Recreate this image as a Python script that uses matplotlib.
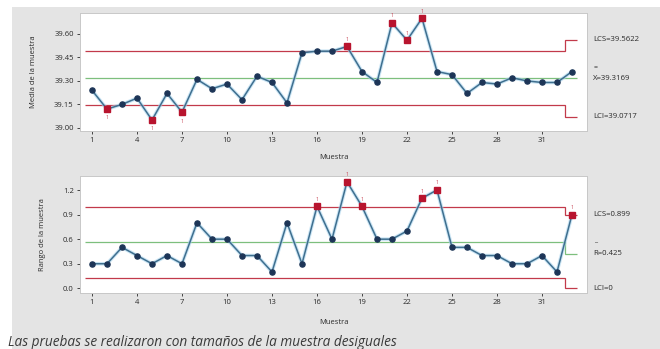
import numpy as np
import matplotlib
matplotlib.use("Agg")
import matplotlib.pyplot as plt
from matplotlib.patches import Rectangle

plt.rcParams["font.family"] = ["Open Sans", "DejaVu Sans"]

muestra = np.arange(1, 34)
medias = [39.24, 39.12, 39.15, 39.19, 39.05, 39.22, 39.10, 39.31, 39.25, 39.28,
          39.18, 39.33, 39.29, 39.16, 39.48, 39.49, 39.49, 39.52, 39.36, 39.29,
          39.67, 39.56, 39.70, 39.36, 39.34, 39.22, 39.29, 39.28, 39.32, 39.30,
          39.29, 39.29, 39.36]
rangos = [0.3, 0.3, 0.5, 0.4, 0.3, 0.4, 0.3, 0.8, 0.6, 0.6,
          0.4, 0.4, 0.2, 0.8, 0.3, 1.0, 0.6, 1.3, 1.0, 0.6,
          0.6, 0.7, 1.1, 1.2, 0.5, 0.5, 0.4, 0.4, 0.3, 0.3,
          0.4, 0.2, 0.9]

# limits per sample (unequal sample sizes -> last sample differs)
lcs_x = [39.488] * 32 + [39.5622]
lc_x = [39.3169] * 33
lci_x = [39.148] * 32 + [39.0717]
lcs_r = [0.996] * 32 + [0.899]
lc_r = [0.569] * 32 + [0.425]
lci_r = [0.122] * 32 + [0.0]

fallas_x = [2, 5, 7, 18, 21, 22, 23]
fallas_r = [16, 18, 19, 23, 24, 33]

etiq_x = ["LCS=39.5622", "X=39.3169", "LCI=39.0717"]
etiq_r = ["LCS=0.899", "R=0.425", "LCI=0"]

ROJO = "#c23a4a"
VERDE = "#7dbf7d"
LINEA = "#3f6f8f"
PUNTO = "#1d3557"
GRIS = "#e4e4e4"
TXT = "#2a2a2a"

fig = plt.figure(figsize=(6.6, 3.49), dpi=100, facecolor="white")
fig.patches.append(Rectangle((12 / 660, 0), 1, 1 - 7 / 349, transform=fig.transFigure,
                             facecolor=GRIS, edgecolor="none", zorder=-10))

ax1 = fig.add_axes([80 / 660, 1 - 131 / 349, 507 / 660, 118 / 349])
ax2 = fig.add_axes([80 / 660, 1 - 293 / 349, 507 / 660, 117 / 349])

edges = np.arange(0.5, 34.5)
edges = np.append(edges[:-1], 33.3)


def panel(ax, vals, lcs, lc, lci, fallas, ylim, yticks, yfmt, ylabel, etiq, below, xpad):
    ax.set_facecolor("white")
    ax.stairs(lcs, edges, baseline=None, color=ROJO, lw=0.9, zorder=2)
    ax.stairs(lci, edges, baseline=None, color=ROJO, lw=0.9, zorder=2)
    ax.stairs(lc, edges, baseline=None, color=VERDE, lw=0.9, zorder=2)
    ax.plot(muestra, vals, color="#a9d4ee", lw=2.6, alpha=0.6, zorder=3)
    ax.plot(muestra, vals, color=LINEA, lw=1.1, zorder=4)
    v = np.array(vals)
    ok = [i for i in range(33) if muestra[i] not in fallas]
    bad = [i for i in range(33) if muestra[i] in fallas]
    ax.plot(muestra[ok], v[ok], "o", ms=3.7, color=PUNTO, zorder=5)
    ax.plot(muestra[bad], v[bad], "s", ms=4.2, color="#b8142e", zorder=5)
    rng = ylim[1] - ylim[0]
    for i in bad:
        dy = -0.075 * rng if muestra[i] in below else 0.06 * rng
        ax.text(muestra[i], v[i] + dy, "1", color=ROJO, fontsize=3.5,
                ha="center", va="center", zorder=6)
    ax.set_xlim(0.2, 34)
    ax.set_ylim(*ylim)
    ax.set_yticks(yticks)
    ax.set_yticklabels([yfmt.format(t) for t in yticks])
    ax.set_xticks(np.arange(1, 33, 3))
    ax.tick_params(labelsize=5.5, colors=TXT, length=2.5, width=0.6, pad=2)
    for s in ax.spines.values():
        s.set_color("#c8c8c8")
        s.set_linewidth(0.7)
    ax.set_ylabel(ylabel, fontsize=5.5, color=TXT, labelpad=12)
    ax.set_xlabel("Muestra", fontsize=5.5, color=TXT, labelpad=xpad)
    # right side labels
    ax.text(1.012, (lcs[-1] - ylim[0]) / rng, etiq[0], transform=ax.transAxes,
            fontsize=5.6, color=TXT, va="center")
    ax.text(1.012, (lc[-1] - ylim[0]) / rng, etiq[1], transform=ax.transAxes,
            fontsize=5.6, color=TXT, va="center")
    ax.text(1.012, (lci[-1] - ylim[0]) / rng, etiq[2], transform=ax.transAxes,
            fontsize=5.6, color=TXT, va="center")


panel(ax1, medias, lcs_x, lc_x, lci_x, fallas_x, (38.98, 39.734),
      [39.00, 39.15, 39.30, 39.45, 39.60], "{:.2f}", "Media de la muestra",
      etiq_x, below=[2, 5, 7], xpad=7)
panel(ax2, rangos, lcs_r, lc_r, lci_r, fallas_r, (-0.057, 1.371),
      [0.0, 0.3, 0.6, 0.9, 1.2], "{:.1f}", "Rango de la muestra",
      etiq_r, below=[], xpad=9)

# bars over X and R
ax1.text(1.014, (lc_x[-1] - 38.98) / (39.734 - 38.98) + 0.09, "=", transform=ax1.transAxes,
         fontsize=5, color=TXT, va="center")
ax2.text(1.014, (lc_r[-1] + 0.057) / (1.371 + 0.057) + 0.08, "_", transform=ax2.transAxes,
         fontsize=5, color=TXT, va="bottom")

fig.text(8 / 660, 1 - 343 / 349, "Las pruebas se realizaron con tamaños de la muestra desiguales",
         fontsize=9.8, style="italic", color="#3a3a3a", va="center")

fig.savefig("out.png", dpi=100, facecolor=fig.get_facecolor())
